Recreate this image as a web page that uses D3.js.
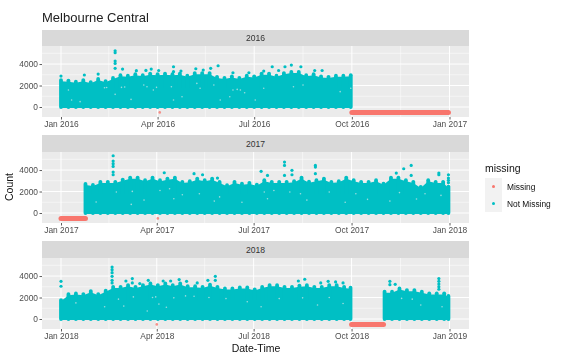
<!DOCTYPE html>
<html>
<head>
<meta charset="utf-8">
<script src="https://cdn.jsdelivr.net/npm/d3@7"></script>
<style>
  html, body { margin: 0; padding: 0; background: #fff; }
  svg { display: block; filter: blur(0.45px); font-family: "Liberation Sans", sans-serif; }
</style>
</head>
<body>
<div id="chart"></div>
<script>
// weekly peak of the sensor count
const peaks2016 = [2650, 2600, 2500, 2650, 2450, 2750, 2550, 2850, 3100, 3050, 3200, 3100, 3250, 3200, 3250, 3200, 3250, 3050, 3300, 3300, 3300, 2950, 2850, 3000, 2850, 3050, 3000, 3250, 3250, 3050, 3300, 3400, 3400, 3100, 3200, 3000, 2950, 3050, 3050, 3100];
const peaks2017 = [2850, 2750, 3040, 3040, 3040, 3250, 3440, 3440, 3190, 3440, 3190, 3350, 3440, 3040, 3100, 3350, 3190, 3350, 3040, 2730, 3040, 2880, 2950, 2790, 3190, 3040, 3040, 3040, 3100, 3440, 3050, 3190, 3350, 3040, 3100, 3440, 3190, 3040, 3040, 3190, 2880, 3440, 3440, 3190, 3040, 2580, 3190, 3040, 3040, 2600];
const peaks2018a = [1900, 2460, 2520, 2460, 2740, 2460, 2770, 3140, 3140, 3300, 3140, 3300, 3450, 3300, 3450, 3300, 3450, 3200, 3200, 3140, 3350, 3140, 2990, 2990, 3080, 3080, 2900, 3140, 3300, 3300, 3140, 3140, 3250, 3300, 3140, 3140, 3300, 3300, 3140, 3050];
const peaks2018b = [2680, 2680, 2990, 2830, 2830, 2680, 2530, 2530, 2530, 2280];

// single points standing clear of the mass
const outliers2016 = [["2016-01-01", 2880], ["2016-01-23", 2980], ["2016-02-05", 3070], ["2016-02-21", 5240], ["2016-02-21", 5050], ["2016-02-21", 4280], ["2016-02-21", 4060], ["2016-02-21", 3600], ["2016-02-28", 3530], ["2016-03-12", 3380], ["2016-03-21", 3410], ["2016-03-26", 3530], ["2016-04-02", 3400], ["2016-04-16", 3750], ["2016-04-16", 3290], ["2016-04-23", 3350], ["2016-05-07", 3560], ["2016-05-14", 3440], ["2016-05-21", 3600], ["2016-05-28", 3840], ["2016-06-11", 3190], ["2016-06-26", 3190], ["2016-07-10", 3350], ["2016-07-18", 3750], ["2016-07-24", 3400], ["2016-07-30", 3750], ["2016-08-05", 3900], ["2016-08-14", 3750], ["2016-08-27", 3400], ["2016-09-03", 3400]];
const outliers2017 = [["2017-02-19", 5330], ["2017-02-19", 4840], ["2017-02-19", 4590], ["2017-02-19", 4340], ["2017-02-19", 3810], ["2017-02-19", 3560], ["2017-04-08", 3750], ["2017-05-06", 3660], ["2017-05-14", 3560], ["2017-05-28", 3250], ["2017-07-08", 3880], ["2017-07-14", 3500], ["2017-07-30", 4740], ["2017-07-30", 4430], ["2017-07-30", 3500], ["2017-08-06", 3970], ["2017-08-06", 3560], ["2017-08-28", 4430], ["2017-08-28", 4280], ["2017-08-28", 3660], ["2017-11-12", 3720], ["2017-11-19", 4120], ["2017-11-26", 4430], ["2017-11-26", 3500], ["2017-12-22", 3720], ["2017-12-22", 3560], ["2017-12-31", 3560], ["2017-12-31", 3250], ["2017-12-31", 3040], ["2017-12-31", 2820]];
const outliers2018 = [["2018-01-01", 3510], ["2018-01-01", 3050], ["2018-02-18", 4840], ["2018-02-18", 4590], ["2018-02-18", 4310], ["2018-02-18", 3970], ["2018-02-18", 3600], ["2018-02-18", 3360], ["2018-03-03", 3540], ["2018-03-09", 3760], ["2018-03-09", 3360], ["2018-03-16", 3300], ["2018-03-24", 3600], ["2018-04-07", 3540], ["2018-04-14", 3540], ["2018-04-22", 3670], ["2018-04-29", 3510], ["2018-05-09", 3360], ["2018-05-19", 3600], ["2018-05-26", 3970], ["2018-05-26", 3600], ["2018-08-12", 3540], ["2018-08-18", 3700], ["2018-09-02", 3360], ["2018-09-09", 3510], ["2018-09-16", 3450], ["2018-09-23", 3360], ["2018-11-06", 3510], ["2018-11-06", 3200], ["2018-11-11", 3230], ["2018-12-22", 3760], ["2018-12-22", 3510], ["2018-12-22", 3260], ["2018-12-22", 3010], ["2018-12-22", 2770]];

// pale flecks inside the mass where no point falls
const holes2016 = [["2016-02-11", 1800], ["2016-02-13", 1810], ["2016-02-27", 1830], ["2016-03-01", 1860], ["2016-02-21", 1180], ["2016-01-08", 1580], ["2016-01-19", 500], ["2016-03-07", 710], ["2016-03-22", 1890], ["2016-03-31", 1830], ["2016-04-14", 1890], ["2016-05-11", 1740], ["2016-06-15", 1640], ["2016-06-22", 1330], ["2016-07-10", 1740], ["2016-07-02", 650], ["2016-05-30", 650], ["2016-08-07", 1890], ["2016-08-16", 2050], ["2016-09-20", 1430], ["2016-09-30", 1740], ["2016-03-19", 2050], ["2016-03-28", 1580], ["2016-01-11", 650], ["2016-04-16", 650], ["2016-04-24", 960], ["2016-05-08", 2200], ["2016-05-24", 2050], ["2016-06-08", 960], ["2016-06-11", 1580], ["2016-06-18", 1580]];
const holes2017 = [["2017-02-22", 1950], ["2017-03-09", 2010], ["2017-03-08", 800], ["2017-04-04", 2100], ["2017-04-13", 2260], ["2017-04-17", 1330], ["2017-02-03", 1020], ["2017-05-11", 1800], ["2017-05-25", 1110], ["2017-07-11", 1950], ["2017-07-14", 1330], ["2017-08-14", 1800], ["2017-08-04", 1950], ["2017-09-10", 1950], ["2017-10-16", 1270], ["2017-11-06", 1110], ["2017-12-09", 1800], ["2017-12-24", 1640], ["2017-03-20", 1200], ["2017-04-25", 1700], ["2017-05-30", 1500], ["2017-06-20", 1000], ["2017-07-20", 2100], ["2017-08-20", 1200], ["2017-09-25", 1000], ["2017-10-05", 1800], ["2017-11-15", 1900], ["2017-12-01", 1300]];
const holes2018 = [["2018-02-24", 1850], ["2018-03-10", 2060], ["2018-03-31", 2060], ["2018-04-03", 1390], ["2018-04-17", 1970], ["2018-05-06", 2120], ["2018-03-23", 740], ["2018-02-11", 1140], ["2018-05-20", 2000], ["2018-07-08", 1140], ["2018-08-16", 1970], ["2018-09-23", 1450], ["2018-11-17", 1920], ["2018-12-25", 1140], ["2018-11-27", 1850], ["2018-01-15", 1500], ["2018-03-01", 1200], ["2018-03-28", 2000], ["2018-04-10", 1100], ["2018-04-28", 2150], ["2018-06-05", 1900], ["2018-06-25", 1600], ["2018-07-25", 1900], ["2018-08-30", 1300], ["2018-09-10", 2000], ["2018-12-05", 1300]];

// missing stretches, plotted at a count of -500
const missingValue = -500;
const missingSpans2016 = [["2016-10-01", "2016-12-31"], ["2016-04-03", "2016-04-03"]];
const missingSpans2017 = [["2017-01-01", "2017-01-24"], ["2017-04-02", "2017-04-02"]];
const missingSpans2018 = [["2018-10-01", "2018-10-31"], ["2018-04-01", "2018-04-01"]];

const yearLabels = ["2016", "2017", "2018"];
const yTicks = [0, 2000, 4000];
const yMinor = [1000, 3000, 5000];
const tickMonths = ["-01-01", "-04-01", "-07-01", "-10-01"];
const minorMonths = ["-02-15", "-05-16", "-08-16", "-11-16"];
const legendLabels = ["Missing", "Not Missing"];
const legendColors = ["#F8766D", "#00BFC4"];

const parseDay = d3.utcParse("%Y-%m-%d");

const facets = [
  { year: 2016, runs: [{ start: "2016-01-01", end: "2016-09-30", peaks: peaks2016 }], outliers: outliers2016, holes: holes2016, spans: missingSpans2016, stripTop: 30, top: 46, bottom: 117 },
  { year: 2017, runs: [{ start: "2017-01-24", end: "2017-12-31", peaks: peaks2017 }], outliers: outliers2017, holes: holes2017, spans: missingSpans2017, stripTop: 135, top: 152, bottom: 223 },
  { year: 2018, runs: [{ start: "2018-01-01", end: "2018-09-30", peaks: peaks2018a }, { start: "2018-11-01", end: "2018-12-31", peaks: peaks2018b }], outliers: outliers2018, holes: holes2018, spans: missingSpans2018, stripTop: 241, top: 258, bottom: 329 }
];

const width = 565, height = 354;
const left = 42, right = 469;
const color = d3.scaleOrdinal().domain(legendLabels).range(legendColors);

const svg = d3.select("#chart").append("svg")
  .attr("width", width)
  .attr("height", height);

svg.append("text")
  .attr("x", left).attr("y", 22)
  .attr("font-size", 13).attr("fill", "#222")
  .text("Melbourne Central");

facets.forEach((f, idx) => {
  const yr = f.year;
  const x = d3.scaleUtc()
    .domain([parseDay(yr + "-01-01"), parseDay((yr + 1) + "-01-01")])
    .range([61, 449.5]);
  const y = d3.scaleLinear()
    .domain([-930, 5680])
    .range([f.bottom, f.top]);

  const g = svg.append("g");

  // strip
  g.append("rect")
    .attr("x", left).attr("y", f.stripTop)
    .attr("width", right - left).attr("height", f.top - f.stripTop)
    .attr("fill", "#D9D9D9");
  g.append("text")
    .attr("x", (left + right) / 2).attr("y", (f.stripTop + f.top) / 2 + 3)
    .attr("text-anchor", "middle")
    .attr("font-size", 8.6).attr("fill", "#333")
    .text(yearLabels[idx]);

  // panel and grid
  g.append("rect")
    .attr("x", left).attr("y", f.top)
    .attr("width", right - left).attr("height", f.bottom - f.top)
    .attr("fill", "#EBEBEB");

  const tickDates = tickMonths.map(m => parseDay(yr + m)).concat([parseDay((yr + 1) + "-01-01")]);
  const minorDates = minorMonths.map(m => parseDay(yr + m));

  g.selectAll(".minorY").data(yMinor).enter().append("line")
    .attr("x1", left).attr("x2", right)
    .attr("y1", d => y(d)).attr("y2", d => y(d))
    .attr("stroke", "#fff").attr("stroke-width", 0.5);
  g.selectAll(".minorX").data(minorDates).enter().append("line")
    .attr("y1", f.top).attr("y2", f.bottom)
    .attr("x1", d => x(d)).attr("x2", d => x(d))
    .attr("stroke", "#fff").attr("stroke-width", 0.5);
  g.selectAll(".majorY").data(yTicks).enter().append("line")
    .attr("x1", left).attr("x2", right)
    .attr("y1", d => y(d)).attr("y2", d => y(d))
    .attr("stroke", "#fff").attr("stroke-width", 1);
  g.selectAll(".majorX").data(tickDates).enter().append("line")
    .attr("y1", f.top).attr("y2", f.bottom)
    .attr("x1", d => x(d)).attr("x2", d => x(d))
    .attr("stroke", "#fff").attr("stroke-width", 1);

  // not missing: a round-topped column up to each weekly peak, so the top edge scallops
  f.runs.forEach(run => {
    const start = parseDay(run.start), end = parseDay(run.end);
    const rows = run.peaks.map((peak, i) => {
      const day = d3.utcDay.offset(start, i * 7);
      return { date: day > end ? end : day, peak: peak };
    });
    // the saddle between peaks sits a little lower than the peaks themselves
    const area = d3.area()
      .x(d => x(d.date))
      .y0(y(0) + 1)
      .y1(d => y(d.peak) + 2.6);
    g.append("path")
      .datum(rows)
      .attr("d", area)
      .attr("fill", color("Not Missing"));
    g.selectAll(null).data(rows).enter().append("line")
      .attr("x1", d => x(d.date)).attr("x2", d => x(d.date))
      .attr("y1", d => y(d.peak) + 1.5)
      .attr("y2", y(0))
      .attr("stroke", color("Not Missing"))
      .attr("stroke-width", 3.8)
      .attr("stroke-linecap", "round");
    // hard left and right edges of the run
    g.append("rect")
      .attr("x", x(start) - 1).attr("width", x(end) - x(start) + 2)
      .attr("y", y(1800)).attr("height", y(0) + 1 - y(1800))
      .attr("fill", color("Not Missing"));
  });

  g.selectAll(".hole").data(f.holes).enter().append("circle")
    .attr("cx", d => x(parseDay(d[0])))
    .attr("cy", d => y(d[1]))
    .attr("r", 0.8)
    .attr("fill", "#EBEBEB")
    .attr("opacity", 0.65);

  g.selectAll(".outlier").data(f.outliers).enter().append("circle")
    .attr("cx", d => x(parseDay(d[0])))
    .attr("cy", d => y(d[1]))
    .attr("r", 1.6)
    .attr("fill", color("Not Missing"));

  // missing
  f.spans.forEach(s => {
    const single = s[0] === s[1];
    const line = d3.line().x(d => x(parseDay(d))).y(y(missingValue));
    g.append("path")
      .attr("d", line(s) + (single ? "h0.01" : ""))
      .attr("fill", "none")
      .attr("stroke", color("Missing"))
      .attr("stroke-width", single ? 2.6 : 5)
      .attr("stroke-linecap", "round")
      .attr("opacity", single ? 0.8 : 1);
  });

  // axes
  const xAxis = g.append("g")
    .attr("transform", `translate(0,${f.bottom})`)
    .call(d3.axisBottom(x).tickValues(tickDates).tickFormat(d3.utcFormat("%b %Y")).tickSize(2.5).tickPadding(1.5));
  const yAxis = g.append("g")
    .attr("transform", `translate(${left},0)`)
    .call(d3.axisLeft(y).tickValues(yTicks).tickSize(2.5).tickPadding(1.5).tickFormat(d3.format("d")));
  [xAxis, yAxis].forEach(a => {
    a.select(".domain").remove();
    a.selectAll("line").attr("stroke", "#333").attr("stroke-width", 0.8);
    a.selectAll("text").attr("fill", "#4D4D4D").attr("font-size", 8.4).attr("font-family", "Liberation Sans");
  });
});

// axis titles
svg.append("text")
  .attr("x", 256).attr("y", 352)
  .attr("text-anchor", "middle")
  .attr("font-size", 10.5).attr("fill", "#111")
  .text("Date-Time");
svg.append("text")
  .attr("transform", "translate(13,187) rotate(-90)")
  .attr("text-anchor", "middle")
  .attr("font-size", 10.5).attr("fill", "#111")
  .text("Count");

// legend
const legend = svg.append("g").attr("transform", "translate(485,0)");
legend.append("text")
  .attr("x", 0).attr("y", 172)
  .attr("font-size", 10.5).attr("fill", "#111")
  .text("missing");
legendLabels.forEach((label, i) => {
  const row = legend.append("g").attr("transform", `translate(0,${178 + i * 17})`);
  row.append("rect").attr("width", 17).attr("height", 17).attr("fill", "#F2F2F2");
  row.append("circle").attr("cx", 8.5).attr("cy", 8.5).attr("r", 1.5).attr("fill", color(label));
  row.append("text").attr("x", 22).attr("y", 11.5)
    .attr("font-size", 8.4).attr("fill", "#111")
    .text(label);
});
</script>
</body>
</html>
